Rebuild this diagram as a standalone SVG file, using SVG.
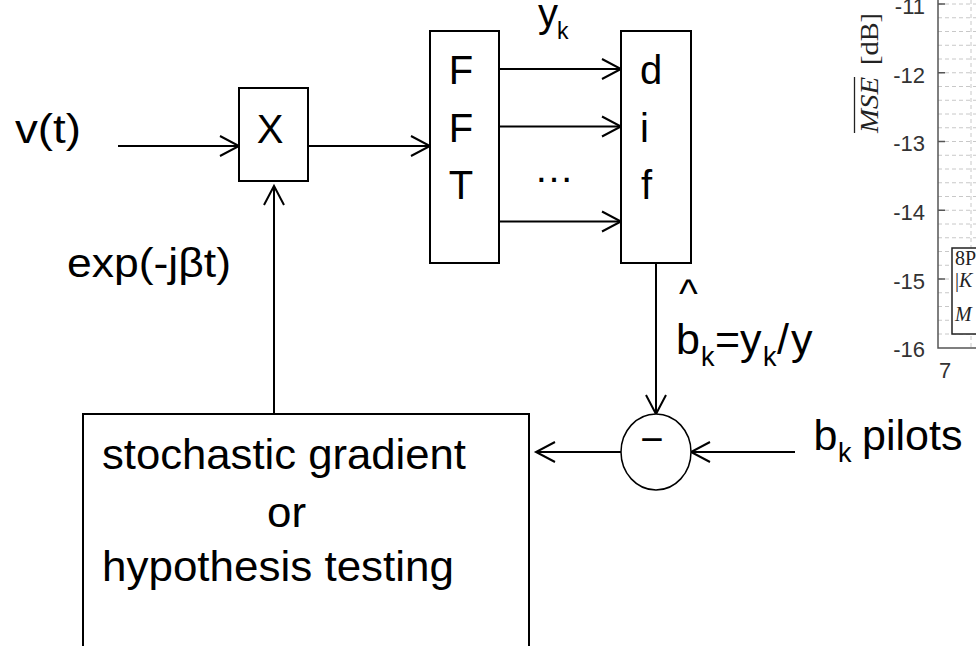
<svg xmlns="http://www.w3.org/2000/svg" width="976" height="646" viewBox="0 0 976 646">
<defs>
<style>
.box{fill:#fff;stroke:#000;stroke-width:2}
.ln{stroke:#000;stroke-width:2;fill:none}
.arr{marker-end:url(#ah)}
.t{font-family:"Liberation Sans",Arial,sans-serif;fill:#000;font-size:40px}
.sub{font-size:23px}
.sub2{font-size:27px}
.big{font-size:43px}
.grid{stroke:#c8c8c8;stroke-width:1;stroke-dasharray:4 3}
.axis{stroke:#555;stroke-width:1.5;fill:none}
.tick{font-family:"Liberation Sans",Arial,sans-serif;font-size:22px;fill:#333;text-anchor:end}
.ser{font-family:"Liberation Serif","Times New Roman",serif;fill:#222}
</style>
<marker id="ah" markerUnits="userSpaceOnUse" markerWidth="24" markerHeight="24" viewBox="0 0 24 24" refX="20" refY="11" orient="auto" overflow="visible">
<path d="M1,1 L20,11 L1,21" fill="none" stroke="#000" stroke-width="2"/>
</marker>
</defs>
<rect width="976" height="646" fill="#fff"/>

<g id="chart">
<g class="grid">
<line x1="938" y1="4" x2="976" y2="4"/>
<line x1="938" y1="17.75" x2="976" y2="17.75"/>
<line x1="938" y1="31.5" x2="976" y2="31.5"/>
<line x1="938" y1="45.25" x2="976" y2="45.25"/>
<line x1="938" y1="59" x2="976" y2="59"/>
<line x1="938" y1="72.75" x2="976" y2="72.75"/>
<line x1="938" y1="86.5" x2="976" y2="86.5"/>
<line x1="938" y1="100.25" x2="976" y2="100.25"/>
<line x1="938" y1="114" x2="976" y2="114"/>
<line x1="938" y1="127.75" x2="976" y2="127.75"/>
<line x1="938" y1="141.5" x2="976" y2="141.5"/>
<line x1="938" y1="155.25" x2="976" y2="155.25"/>
<line x1="938" y1="169" x2="976" y2="169"/>
<line x1="938" y1="182.75" x2="976" y2="182.75"/>
<line x1="938" y1="196.5" x2="976" y2="196.5"/>
<line x1="938" y1="210.25" x2="976" y2="210.25"/>
<line x1="938" y1="224" x2="976" y2="224"/>
<line x1="938" y1="237.75" x2="976" y2="237.75"/>
<line x1="938" y1="251.5" x2="976" y2="251.5"/>
<line x1="938" y1="265.25" x2="976" y2="265.25"/>
<line x1="938" y1="279" x2="976" y2="279"/>
<line x1="938" y1="292.75" x2="976" y2="292.75"/>
<line x1="938" y1="306.5" x2="976" y2="306.5"/>
<line x1="938" y1="320.25" x2="976" y2="320.25"/>
<line x1="938" y1="334" x2="976" y2="334"/>
<line x1="971" y1="0" x2="971" y2="348"/>
</g>
<path class="axis" d="M938,0 V348 H976"/>
<path class="axis" d="M938,4 H945 M938,72.75 H945 M938,141.5 H945 M938,210.25 H945 M938,279 H945"/>
<text class="tick" x="925" y="13.5">-11</text>
<text class="tick" x="925" y="82.5">-12</text>
<text class="tick" x="925" y="151">-13</text>
<text class="tick" x="925" y="220">-14</text>
<text class="tick" x="925" y="288.5">-15</text>
<text class="tick" x="925" y="357">-16</text>
<text class="tick" x="945" y="378" style="text-anchor:middle">7</text>
<text class="ser" transform="translate(878,133) rotate(-90)" font-size="25"><tspan font-style="italic" textLength="56" lengthAdjust="spacingAndGlyphs">MSE</tspan><tspan x="68" textLength="52" lengthAdjust="spacingAndGlyphs">[dB]</tspan></text>
<line x1="854.5" y1="77" x2="854.5" y2="133" stroke="#222" stroke-width="1.3"/>
<rect x="952" y="248" width="40" height="86" fill="#fff" stroke="#222" stroke-width="1.5"/>
<text class="ser" x="955" y="265" font-size="20">8P</text>
<text class="ser" x="955" y="287" font-size="20">|<tspan font-style="italic">K</tspan></text>
<text class="ser" x="955" y="321" font-size="20" font-style="italic">M</text>
</g>

<g id="connectors">
<line class="ln arr" x1="118" y1="146" x2="239" y2="146"/>
<line class="ln arr" x1="309" y1="146" x2="430" y2="146"/>
<line class="ln arr" x1="499" y1="69" x2="621" y2="69"/>
<line class="ln arr" x1="499" y1="126.5" x2="621" y2="126.5"/>
<line class="ln arr" x1="499" y1="221.5" x2="621" y2="221.5"/>
<line class="ln arr" x1="656" y1="263" x2="656" y2="414"/>
<line class="ln arr" x1="795" y1="452" x2="691" y2="452"/>
<line class="ln arr" x1="621" y1="452" x2="536" y2="452"/>
<line class="ln arr" x1="274" y1="414" x2="274" y2="186"/>
</g>

<g id="mixer">
<rect class="box" x="239" y="88" width="69" height="93"/>
<text class="t" x="270" y="142.5" text-anchor="middle">X</text>
</g>

<g id="fft">
<rect class="box" x="430" y="31" width="69" height="232"/>
<text class="t" x="461" y="84" text-anchor="middle">F</text>
<text class="t" x="461" y="141.7" text-anchor="middle">F</text>
<text class="t" x="461" y="199" text-anchor="middle">T</text>
</g>

<g id="dif">
<rect class="box" x="621" y="31" width="70" height="232"/>
<text class="t" x="640" y="84">d</text>
<text class="t" x="640" y="141.7">i</text>
<text class="t" x="641" y="199">f</text>
</g>

<g id="subtract">
<ellipse cx="656" cy="452" rx="35" ry="38" fill="#fff" stroke="#000" stroke-width="1.5"/>
<text class="t" x="652" y="453" text-anchor="middle" font-size="50">−</text>
</g>

<g id="estimator">
<rect class="box" x="83" y="414" width="446" height="240"/>
<text class="t big" x="102" y="469" textLength="364" lengthAdjust="spacingAndGlyphs">stochastic gradient</text>
<text class="t big" x="267" y="527" textLength="39" lengthAdjust="spacingAndGlyphs">or</text>
<text class="t big" x="102" y="581" textLength="352" lengthAdjust="spacingAndGlyphs">hypothesis testing</text>
</g>

<g id="labels">
<text class="t" x="15" y="143" font-size="39" textLength="66" lengthAdjust="spacingAndGlyphs">v(t)</text>
<text class="t" x="67" y="277" font-size="38" textLength="164" lengthAdjust="spacingAndGlyphs">exp(-jβt)</text>
<text class="t" x="538" y="27" font-size="39">y<tspan class="sub" x="557" y="39">k</tspan></text>
<text class="t" x="534" y="182" font-size="36">…</text>
<text class="t" x="679" y="307" font-size="34">^</text>
<text class="t big" x="676" y="354">b<tspan class="sub2" x="701" y="366">k</tspan><tspan x="715" y="354">=</tspan><tspan x="740" y="354">y</tspan><tspan class="sub2" x="763" y="366">k</tspan><tspan x="777" y="354">/</tspan><tspan x="791" y="354">y</tspan></text>
<text class="t big" x="813.5" y="450">b<tspan class="sub2" x="838" y="461.7">k</tspan><tspan x="862" y="450">pilots</tspan></text>
</g>
</svg>
